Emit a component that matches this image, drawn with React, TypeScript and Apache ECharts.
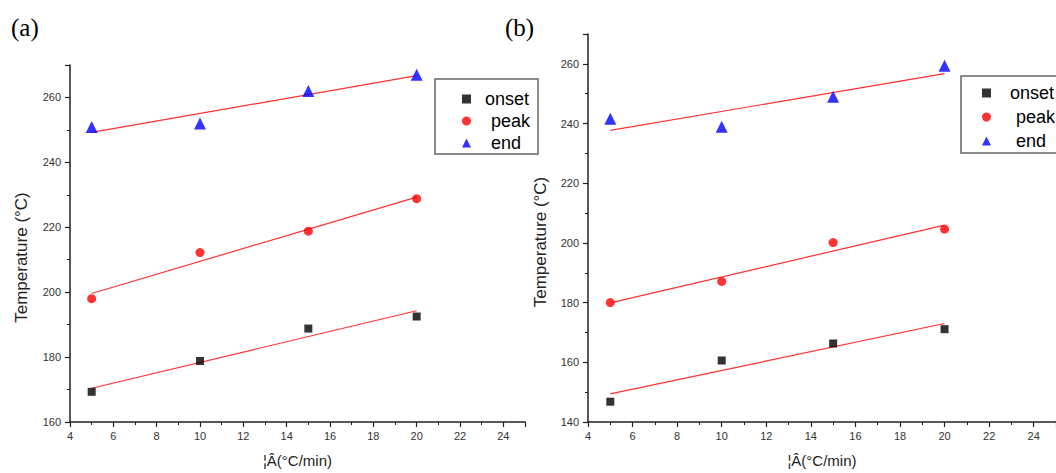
import React, { useEffect, useRef } from "react";
import * as echarts from "echarts";

const rates = [5, 10, 15, 20];
const onsetA = [169.3, 178.8, 188.8, 192.5];
const peakA = [198.0, 212.2, 218.8, 228.8];
const endA = [250.9, 252.0, 262.0, 267.0];
const onsetB = [146.8, 160.6, 166.3, 171.1];
const peakB = [180.0, 187.1, 200.1, 204.6];
const endB = [241.6, 238.9, 249.0, 259.4];
const legendNames = ["onset", "peak", "end"];
const panelLabels = ["(a)", "(b)"];
const yTitle = "Temperature (°C)";
const xTitle = "¦Â(°C/min)";

function fit(xs: number[], ys: number[]) {
  const n = xs.length;
  const mx = xs.reduce((a, b) => a + b, 0) / n;
  const my = ys.reduce((a, b) => a + b, 0) / n;
  let sxy = 0, sxx = 0;
  for (let i = 0; i < n; i++) {
    sxy += (xs[i] - mx) * (ys[i] - my);
    sxx += (xs[i] - mx) * (xs[i] - mx);
  }
  const k = sxy / sxx;
  const b = my - k * mx;
  const x0 = xs[0], x1 = xs[n - 1];
  return [[x0, k * x0 + b], [x1, k * x1 + b]];
}

const FONT = "Arial, 'Liberation Sans', sans-serif";

export default function App() {
  const ref = useRef<HTMLDivElement>(null);
  useEffect(() => {
    document.body.style.margin = "0";
    const chart = echarts.init(ref.current!, null, { renderer: "svg" });
    const xAxisBase = (gridIndex: number) => ({
      type: "value",
      gridIndex,
      min: 4,
      max: 25,
      interval: 2,
      name: xTitle,
      nameLocation: "middle",
      nameGap: 31,
      nameTextStyle: { fontFamily: FONT, fontSize: 15, color: "#222" },
      axisLine: { show: true, lineStyle: { color: "#222", width: 1.5 } },
      axisTick: { show: true, inside: false, length: 5, lineStyle: { color: "#222", width: 1.2 } },
      minorTick: { show: true, splitNumber: 2, length: 3, lineStyle: { color: "#222", width: 1 } },
      axisLabel: { fontFamily: FONT, fontSize: 11, color: "#333", margin: 8, showMaxLabel: false },
      splitLine: { show: false },
    });
    const yAxisBase = (gridIndex: number, min: number, gap: number) => ({
      type: "value",
      gridIndex,
      min,
      max: 270,
      interval: 20,
      name: yTitle,
      nameLocation: "middle",
      nameGap: gap,
      nameRotate: 90,
      nameTextStyle: { fontFamily: FONT, fontSize: 17, color: "#222", padding: [0, 28, 0, 0] },
      axisLine: { show: true, lineStyle: { color: "#222", width: 1.5 } },
      axisTick: { show: true, inside: false, length: 5, lineStyle: { color: "#222", width: 1.2 } },
      minorTick: { show: true, splitNumber: 2, length: 3, lineStyle: { color: "#222", width: 1 } },
      axisLabel: { fontFamily: FONT, fontSize: 11, color: "#333", margin: 9, showMaxLabel: false },
      splitLine: { show: false },
    });
    const styles = [
      { name: "onset", symbol: "rect", size: 8, color: "#000000" },
      { name: "peak", symbol: "circle", size: 9, color: "#ff0000" },
      { name: "end", symbol: "triangle", size: 12, color: "#0000ff" },
    ];
    const dataA = [onsetA, peakA, endA];
    const dataB = [onsetB, peakB, endB];
    const series: any[] = [];
    [dataA, dataB].forEach((set, gi) => {
      set.forEach((ys) => {
        series.push({
          type: "line",
          name: "fit",
          xAxisIndex: gi,
          yAxisIndex: gi,
          data: fit(rates, ys),
          symbol: "none",
          lineStyle: { color: "#ff3030", width: 1.2 },
          z: 2,
        });
      });
      set.forEach((ys, si) => {
        const st = styles[si];
        series.push({
          type: "scatter",
          name: st.name,
          xAxisIndex: gi,
          yAxisIndex: gi,
          data: rates.map((x, i) => [x, ys[i]]),
          symbol: st.symbol,
          symbolSize: st.size,
          itemStyle: { color: st.color },
          z: 3,
        });
      });
    });
    const legendData = legendNames.map((n, i) => ({
      name: n,
      icon: styles[i].symbol,
      itemStyle: { color: styles[i].color },
    }));
    const fmt = (name: string) => (name === "onset" ? `{o|${name}}` : `{p|${name}}`);
    const legendText = (lh: number, gap: number) => ({
      fontFamily: FONT,
      fontSize: 18,
      color: "#000",
      lineHeight: lh,
      rich: {
        o: { fontFamily: FONT, fontSize: 18, color: "#000", lineHeight: lh, padding: [0, 0, 0, gap] },
        p: { fontFamily: FONT, fontSize: 18, color: "#000", lineHeight: lh, padding: [0, 0, 0, gap + 6] },
      },
    });
    chart.setOption({
      animation: false,
      backgroundColor: "#ffffff",
      grid: [
        { left: 70, top: 65, width: 455, height: 359 },
        { left: 588, top: 34, width: 468, height: 391 },
      ],
      xAxis: [xAxisBase(0), xAxisBase(1)],
      yAxis: [yAxisBase(0, 160, 40), yAxisBase(1, 140, 39)],
      legend: [
        {
          data: legendData,
          orient: "vertical",
          left: 435,
          top: 79,
          padding: [9, 8, 0, 27],
          itemGap: 0,
          itemWidth: 9,
          itemHeight: 9,
          formatter: fmt,
          borderColor: "#666",
          borderWidth: 1.5,
          backgroundColor: "#fff",
          textStyle: legendText(22, 9),
          selectedMode: false,
        },
        {
          data: legendData,
          orient: "vertical",
          left: 961,
          top: 76,
          padding: [5, 12, 0, 21],
          itemGap: 0,
          itemWidth: 9,
          itemHeight: 9,
          formatter: fmt,
          borderColor: "#666",
          borderWidth: 1.5,
          backgroundColor: "#fff",
          textStyle: legendText(24, 14),
          selectedMode: false,
        },
      ],
      graphic: [
        {
          type: "text",
          left: 11,
          top: 15,
          style: { text: panelLabels[0], font: "25px 'Liberation Serif', 'Times New Roman', serif", fill: "#000" },
        },
        {
          type: "text",
          left: 505,
          top: 15,
          style: { text: panelLabels[1], font: "25px 'Liberation Serif', 'Times New Roman', serif", fill: "#000" },
        },
      ],
      series,
    });
    return () => chart.dispose();
  }, []);
  return <div ref={ref} style={{ width: 1056, height: 473 }} />;
}
